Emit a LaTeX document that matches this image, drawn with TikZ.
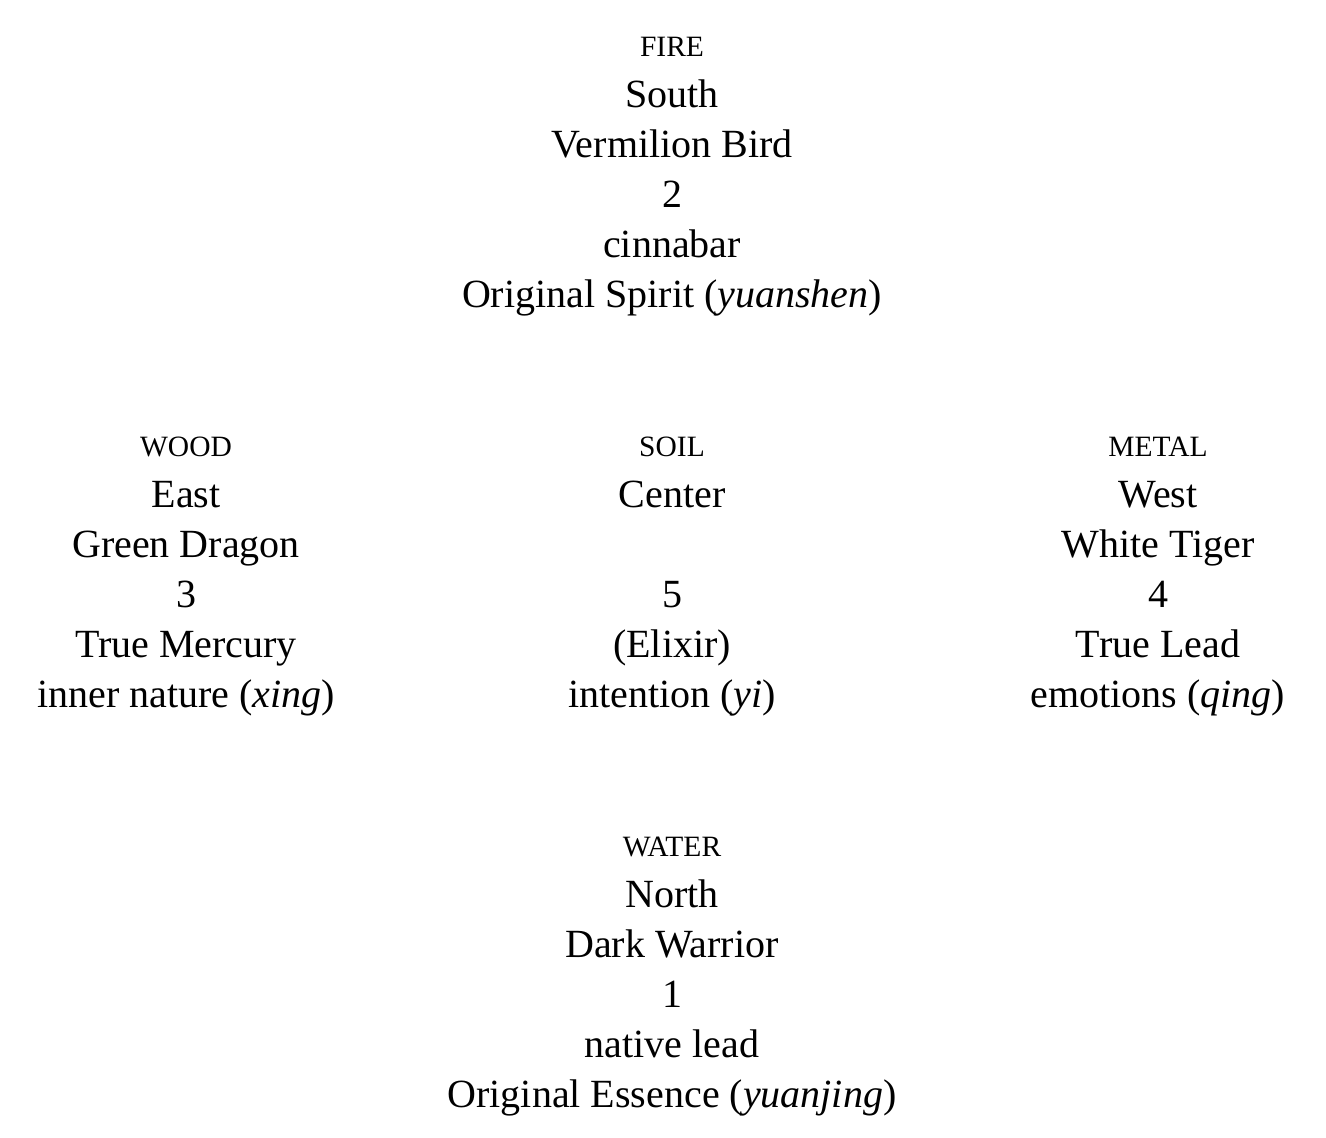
\documentclass[tikz,border=0pt]{standalone}
\usepackage{fontspec}
\setmainfont{Liberation Serif}
\begin{document}
\begin{tikzpicture}[x=1pt,y=1pt,
  big/.style={anchor=base,inner sep=0pt,font=\fontsize{40}{48}\selectfont},
  small/.style={anchor=base,inner sep=0pt,font=\fontsize{29.5}{35}\selectfont}]
\useasboundingbox (0,0) rectangle (1326,1138);
% top block (FIRE)
\node[small] (f0) at (672,1138-57) {FIRE};
\node[big] (f1) at (672,1138-108) {South};
\node[big] (f2) at (672,1138-158) {Vermilion Bird};
\node[big] (f3) at (672,1138-208) {2};
\node[big] (f4) at (672,1138-258) {cinnabar};
\node[big] (f5) at (672,1138-308) {Original Spirit (\textit{yuanshen})};
% WOOD
\node[small] (w0) at (186,1138-457) {WOOD};
\node[big] (w1) at (186,1138-508) {East};
\node[big] (w2) at (186,1138-558) {Green Dragon};
\node[big] (w3) at (186,1138-608) {3};
\node[big] (w4) at (186,1138-658) {True Mercury};
\node[big] (w5) at (186,1138-708) {inner nature (\textit{xing})};
% SOIL
\node[small] (s0) at (672,1138-457) {SOIL};
\node[big] (s1) at (672,1138-508) {Center};
\node[big] (s3) at (672,1138-608) {5};
\node[big] (s4) at (672,1138-658) {(Elixir)};
\node[big] (s5) at (672,1138-708) {intention (\textit{yi})};
% METAL
\node[small] (m0) at (1158,1138-457) {METAL};
\node[big] (m1) at (1158,1138-508) {West};
\node[big] (m2) at (1158,1138-558) {White Tiger};
\node[big] (m3) at (1158,1138-608) {4};
\node[big] (m4) at (1158,1138-658) {True Lead};
\node[big] (m5) at (1158,1138-708) {emotions (\textit{qing})};
% WATER
\node[small] (a0) at (672,1138-857) {WATER};
\node[big] (a1) at (672,1138-908) {North};
\node[big] (a2) at (672,1138-958) {Dark Warrior};
\node[big] (a3) at (672,1138-1008) {1};
\node[big] (a4) at (672,1138-1058) {native lead};
\node[big] (a5) at (672,1138-1108) {Original Essence (\textit{yuanjing})};
\end{tikzpicture}
\end{document}
